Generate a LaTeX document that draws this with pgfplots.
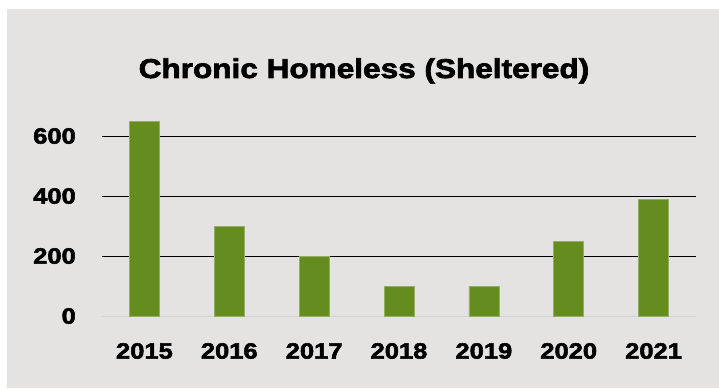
\documentclass[border=0pt]{standalone}
\usepackage{fontspec}
\setmainfont{Liberation Sans}
\newfontfamily\blk{Liberation Sans Bold}[FakeBold=2.5, FakeStretch=1.16]
\usepackage{pgfplots}
\pgfplotsset{compat=1.18}
\definecolor{bg}{RGB}{228,227,226}
\definecolor{barg}{RGB}{101,140,30}
\definecolor{zl}{RGB}{210,210,210}
\begin{document}
\begin{tikzpicture}[x=1pt,y=1pt]
\useasboundingbox (0,0) rectangle (719,388);
\fill[white] (0,0) rectangle (719,388);
\fill[bg] (7,0) rectangle (719,379);
\node[font=\blk\fontsize{27.2}{27.2}\selectfont, anchor=base] at (364,310) {Chronic Homeless (Sheltered)};
\begin{axis}[
  at={(102pt,72pt)}, anchor=south west,
  scale only axis, width=594pt, height=204pt,
  xmin=-0.5, xmax=6.5, ymin=0, ymax=680,
  ybar, bar width=30pt,
  axis line style={draw=none},
  major tick length=0pt,
  xtick=data,
  xticklabels={2015,2016,2017,2018,2019,2020,2021},
  ytick={200,400,600},
  extra y ticks={0},
  extra y tick style={grid style={zl, line width=0.8pt}},
  ymajorgrids,
  grid style={black, line width=0.6pt},
  /pgf/number format/assume math mode=true,
  ticklabel style={font=\blk\fontsize{22}{22}\selectfont, inner sep=0pt},
  yticklabel style={anchor=east, xshift=-26pt},
  xticklabel style={anchor=north, yshift=-27pt},
]
\addplot[fill=barg, draw=barg!70!white, line width=0.5pt] coordinates {(0,650) (1,300) (2,200) (3,100) (4,100) (5,250) (6,390)};
\end{axis}
\end{tikzpicture}
\end{document}
